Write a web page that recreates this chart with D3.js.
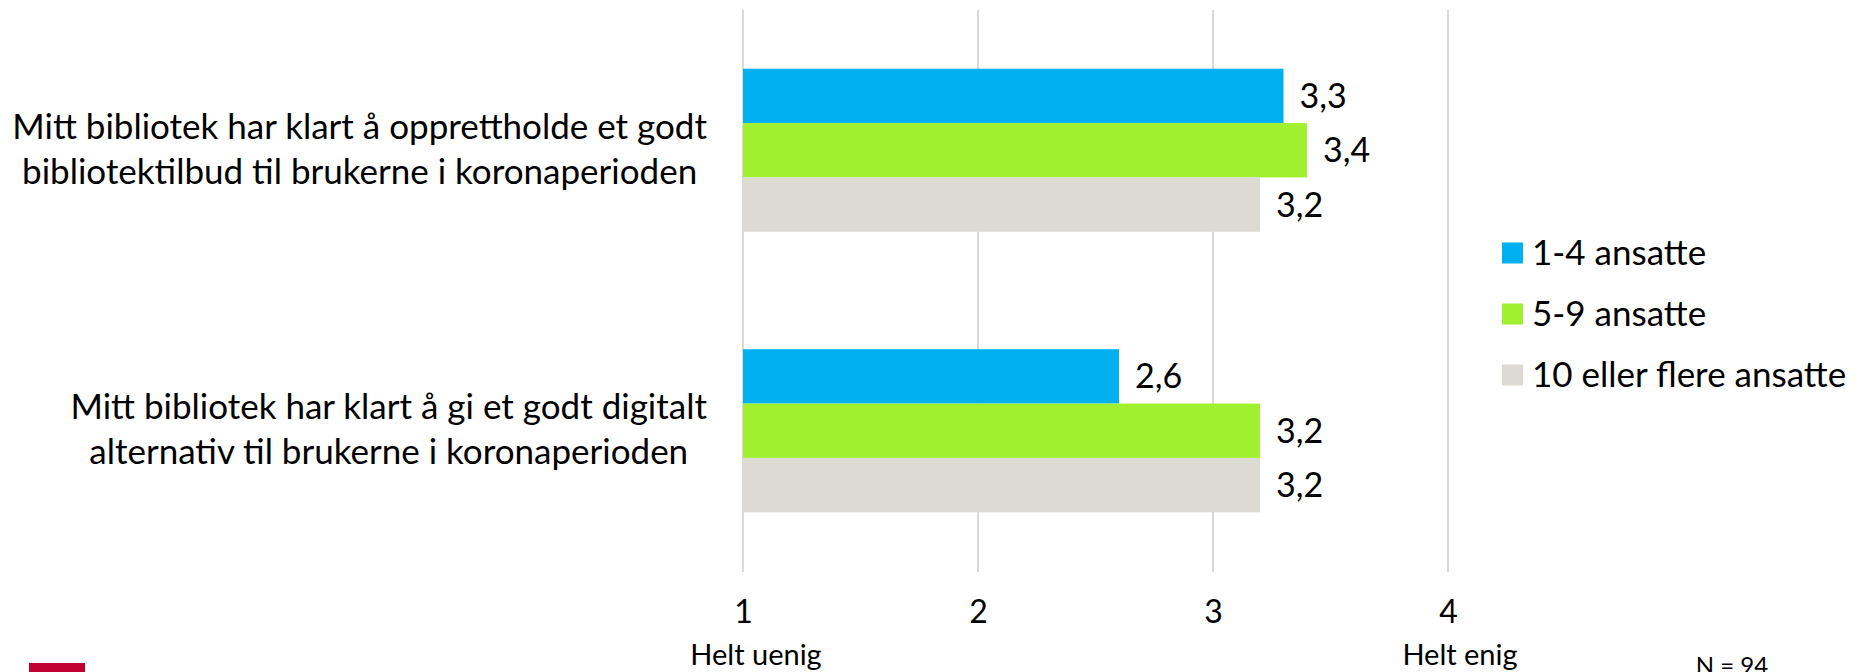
<!DOCTYPE html>
<html>
<head>
<meta charset="utf-8">
<script src="https://cdn.jsdelivr.net/npm/d3@7"></script>
<style>
  html, body { margin: 0; padding: 0; background: #fff; }
  svg { display: block; font-family: Lato, "Open Sans", sans-serif; }
</style>
</head>
<body>
<svg id="chart" width="1856" height="672"></svg>
<script>
const categories = [
  ["Mitt bibliotek har klart å opprettholde et godt", "bibliotektilbud til brukerne i koronaperioden"],
  ["Mitt bibliotek har klart å gi et godt digitalt", "alternativ til brukerne i koronaperioden"]
];
const seriesNames = ["1-4 ansatte", "5-9 ansatte", "10 eller flere ansatte"];
const seriesColors = ["#00B0F0", "#A0F030", "#DDD9D3"];
const values14 = [3.3, 2.6];
const values59 = [3.4, 3.2];
const values10 = [3.2, 3.2];
const tickValues = [1, 2, 3, 4];
const axisEndLabels = ["Helt uenig", "Helt enig"];
const noteText = "N = 94";

const seriesValues = [values14, values59, values10];
const svg = d3.select("#chart");

const x = d3.scaleLinear().domain([1, 4]).range([743, 1448]);
const catKeys = categories.map((c, i) => i);
const y0 = d3.scaleBand().domain(catKeys).range([10, 571]).paddingInner(0).paddingOuter(0);
const y1 = d3.scaleBand().domain(d3.range(seriesNames.length)).range([0, y0.bandwidth()]).paddingInner(0).paddingOuter(1.08);

// gridlines
svg.append("g").selectAll("line").data(tickValues).join("line")
  .attr("x1", d => x(d)).attr("x2", d => x(d))
  .attr("y1", 10).attr("y2", 572)
  .attr("stroke", "#d9d9d9").attr("stroke-width", 2);

// bars
const groups = svg.append("g").selectAll("g").data(catKeys).join("g")
  .attr("transform", d => `translate(0,${y0(d)})`);
groups.selectAll("rect").data(ci => seriesValues.map((s, si) => ({si, v: s[ci]}))).join("rect")
  .attr("x", x(1))
  .attr("y", d => y1(d.si))
  .attr("width", d => x(d.v) - x(1))
  .attr("height", y1.bandwidth())
  .attr("fill", d => seriesColors[d.si]);
groups.selectAll("text.val").data(ci => seriesValues.map((s, si) => ({si, v: s[ci]}))).join("text")
  .attr("class", "val")
  .attr("x", d => x(d.v) + 16)
  .attr("y", d => y1(d.si) + y1.bandwidth() / 2 + 12)
  .attr("font-size", 34)
  .attr("fill", "#000")
  .text(d => d3.format(".1f")(d.v).replace(".", ","));

// category labels: block right-aligned at 707, lines centered within block
const labelRight = 707;
const catG = svg.append("g");
categories.forEach((lines, ci) => {
  const cy = y0(ci) + y0.bandwidth() / 2;
  const t = catG.append("text").attr("font-size", 35).attr("fill", "#000").attr("text-anchor", "middle");
  const ts = lines.map((ln, li) => t.append("tspan").attr("y", cy + (li - (lines.length - 1) / 2) * 45 + 11).text(ln));
  const maxW = d3.max(ts, s => s.node().getComputedTextLength());
  ts.forEach(s => s.attr("x", labelRight - maxW / 2));
});

// x axis tick labels
const axis = d3.axisBottom(x).tickValues(tickValues).tickSize(0).tickPadding(0).tickFormat(d3.format("d"));
const axG = svg.append("g").attr("transform", "translate(0,600)").call(axis);
axG.select(".domain").remove();
axG.selectAll("text").attr("font-size", 32).attr("font-family", "Lato, 'Open Sans', sans-serif").attr("fill", "#000").attr("dy", null).attr("y", 23);

// end labels
svg.append("text").attr("x", 756).attr("y", 665).attr("text-anchor", "middle").attr("font-size", 29).text(axisEndLabels[0]);
svg.append("text").attr("x", 1460).attr("y", 665).attr("text-anchor", "middle").attr("font-size", 29).text(axisEndLabels[1]);

// legend
const lg = svg.append("g").selectAll("g").data(seriesNames).join("g")
  .attr("transform", (d, i) => `translate(1502,${253 + i * 61})`);
lg.append("rect").attr("x", 0).attr("y", -10.5).attr("width", 21).attr("height", 21).attr("fill", (d, i) => seriesColors[i]);
lg.append("text").attr("x", 30).attr("y", 12).attr("font-size", 35).attr("fill", "#000").text(d => d);

// note
svg.append("text").attr("x", 1732).attr("y", 674).attr("text-anchor", "middle").attr("font-size", 24).text(noteText);

// red logo block
svg.append("rect").attr("x", 29).attr("y", 663).attr("width", 56).attr("height", 9).attr("fill", "#C00030");
</script>
</body>
</html>
